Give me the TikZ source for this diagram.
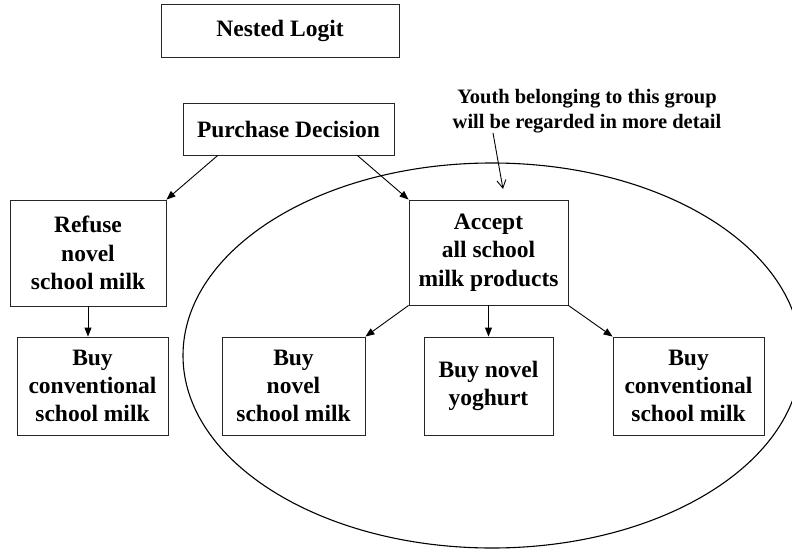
\documentclass[tikz,border=0pt]{standalone}
\usepackage{fontspec}
\setmainfont{Liberation Serif}
\usetikzlibrary{arrows.meta,calc}
\begin{document}
\begin{tikzpicture}[x=1pt,y=-1pt,
  box/.style={draw=black!85, line width=0.9pt, align=center, inner sep=0pt,
    font=\bfseries\fontsize{23.5}{28.3}\selectfont},
  arr/.style={-{Triangle[length=9pt,width=7pt]}, line width=0.9pt},
  notearr/.style={-{Straight Barb[length=8pt,width=9pt]}, line width=0.9pt},
  note/.style={align=center, inner sep=0pt,
    font=\bfseries\fontsize{20.5}{25}\selectfont},
  ring/.style={line width=1.1pt}]
\useasboundingbox (0,0) rectangle (792,551);
% group ellipse
\draw[ring] (492,355.5) ellipse [x radius=309pt, y radius=192.5pt];
% boxes
\node[box, minimum width=238pt, minimum height=53pt] (nl) at (280,30.5) {Nested Logit};
\node[box, minimum width=211pt, minimum height=52pt] (pd) at (288.5,129) {Purchase Decision};
\node[box, minimum width=156pt, minimum height=106pt] (refuse) at (88,253) {Refuse\\novel\\school milk};
\node[box, minimum width=159pt, minimum height=105pt] (accept) at (488.5,252.5) {Accept\\all school\\milk products};
\node[box, minimum width=151pt, minimum height=98pt] (lconv) at (92.5,386) {Buy\\conventional\\school milk};
\node[box, minimum width=143pt, minimum height=98pt] (bnsm) at (293.5,386) {Buy\\novel\\school milk};
\node[box, minimum width=129pt, minimum height=98pt] (yog) at (488.5,386) {Buy novel\\yoghurt};
\node[box, minimum width=151pt, minimum height=98pt] (rconv) at (688.5,386) {Buy\\conventional\\school milk};
% annotation
\node[note] (note) at (587,111) {Youth belonging to this group\\will be regarded in more detail};
\coordinate (notefrom) at (493,133);
\coordinate (noteto) at (503,189);
% connectors
\draw[arr] ($(pd.south west)!0.166!(pd.south east)$) -- (refuse.north east);
\draw[arr] ($(pd.south west)!0.825!(pd.south east)$) -- (accept.north west);
\draw[arr] (refuse.south) -- (refuse.south |- lconv.north);
\draw[arr] (accept.south west) -- (bnsm.north east);
\draw[arr] (accept.south) -- (yog.north);
\draw[arr] (accept.south east) -- (rconv.north west);
\draw[notearr] (notefrom) -- (noteto);
\end{tikzpicture}
\end{document}
